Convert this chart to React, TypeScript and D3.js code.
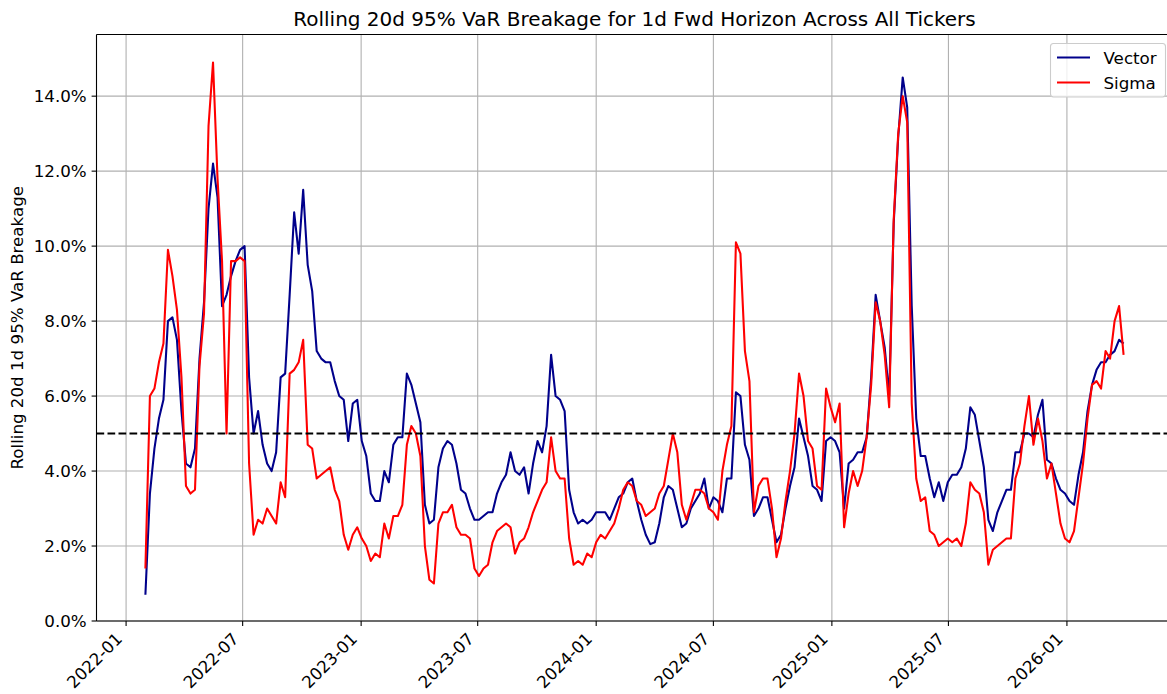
import React from "react";
import * as d3 from "d3";

// ---- Data (weekly samples) ----
const START_DATE = "2022-01-31";
const STEP_DAYS = 7;

const vectorVals = [
  0.7, 3.4, 4.6, 5.4, 5.9, 8.0, 8.1, 7.5, 5.6, 4.2,
  4.1, 4.6, 7.0, 8.5, 11.0, 12.2, 11.3, 8.4, 8.7, 9.2,
  9.6, 9.9, 10.0, 6.5, 5.0, 5.6, 4.7, 4.2, 4.0, 4.5,
  6.5, 6.6, 8.7, 10.9, 9.8, 11.5, 9.5, 8.8, 7.2, 7.0,
  6.9, 6.9, 6.4, 6.0, 5.9, 4.8, 5.8, 5.9, 4.8, 4.4,
  3.4, 3.2, 3.2, 4.0, 3.7, 4.7, 4.9, 4.9, 6.6, 6.3,
  5.8, 5.3, 3.1, 2.6, 2.7, 4.1, 4.6, 4.8, 4.7, 4.2,
  3.5, 3.4, 3.0, 2.7, 2.7, 2.8, 2.9, 2.9, 3.4, 3.7,
  3.9, 4.5, 4.0, 3.9, 4.1, 3.4, 4.2, 4.8, 4.5, 5.2,
  7.1, 6.0, 5.9, 5.6, 3.5, 2.9, 2.6, 2.7, 2.6, 2.7,
  2.9, 2.9, 2.9, 2.7, 3.0, 3.3, 3.4, 3.7, 3.8, 3.2,
  2.7, 2.3, 2.05, 2.1, 2.6, 3.3, 3.6, 3.5, 3.0, 2.5,
  2.6, 3.0, 3.2, 3.4, 3.8, 3.0, 3.3, 3.2, 2.9, 3.8,
  3.8, 6.1, 6.0, 4.7, 4.3, 2.8, 3.0, 3.3, 3.3, 2.7,
  2.1, 2.3, 3.0, 3.6, 4.1, 5.4, 4.9, 4.4, 3.6, 3.5,
  3.2, 4.8, 4.9, 4.8, 4.5, 3.0, 4.2, 4.3, 4.5, 4.5,
  4.9, 6.5, 8.7, 8.0, 7.3, 6.0, 10.6, 12.9, 14.5, 13.7,
  8.4, 5.4, 4.4, 4.4, 3.8, 3.3, 3.7, 3.2, 3.7, 3.9,
  3.9, 4.1, 4.6, 5.7, 5.5, 4.8, 4.1, 2.7, 2.4, 2.9,
  3.2, 3.5, 3.5, 4.5, 4.5, 5.0, 5.0, 4.9, 5.5, 5.9,
  4.3, 4.2, 3.8, 3.5, 3.4, 3.2, 3.1, 3.9, 4.5, 5.6,
  6.3, 6.7, 6.9, 6.9, 7.1, 7.2, 7.5, 7.4,
];

const sigmaVals = [
  1.4, 6.0, 6.2, 6.9, 7.4, 9.9, 9.2, 8.3, 6.5, 3.6,
  3.4, 3.5, 6.8, 8.2, 13.2, 14.9, 11.8, 9.6, 5.0, 9.6,
  9.6, 9.7, 9.6, 4.2, 2.3, 2.7, 2.6, 3.0, 2.8, 2.6,
  3.7, 3.3, 6.6, 6.7, 6.9, 7.5, 4.7, 4.6, 3.8, 3.9,
  4.0, 4.1, 3.5, 3.2, 2.3, 1.9, 2.3, 2.5, 2.2, 2.0,
  1.6, 1.8, 1.7, 2.6, 2.2, 2.8, 2.8, 3.1, 4.7, 5.2,
  5.0, 4.4, 2.0, 1.1, 1.0, 2.6, 2.9, 2.9, 3.1, 2.5,
  2.3, 2.3, 2.2, 1.4, 1.2, 1.4, 1.5, 2.1, 2.4, 2.5,
  2.6, 2.5, 1.8, 2.1, 2.2, 2.5, 2.9, 3.2, 3.5, 3.7,
  4.9, 4.0, 3.8, 3.8, 2.2, 1.5, 1.6, 1.5, 1.8, 1.7,
  2.1, 2.3, 2.2, 2.4, 2.6, 3.0, 3.5, 3.7, 3.6, 3.2,
  3.1, 2.8, 2.9, 3.0, 3.4, 3.6, 4.3, 5.0, 4.5, 3.1,
  2.7, 3.1, 3.5, 3.5, 3.4, 3.0, 2.9, 2.7, 4.0, 4.7,
  5.2, 10.1, 9.8, 7.2, 6.4, 2.9, 3.6, 3.8, 3.8, 3.0,
  1.7, 2.2, 3.2, 4.0, 5.0, 6.6, 6.0, 4.8, 4.6, 3.6,
  3.5, 6.2, 5.7, 5.3, 5.8, 2.5, 3.4, 4.0, 3.6, 4.0,
  4.9, 6.3, 8.5, 8.0, 7.1, 5.7, 10.7, 13.0, 14.0, 13.3,
  5.8, 3.8, 3.2, 3.3, 2.4, 2.3, 2.0, 2.1, 2.2, 2.1,
  2.2, 2.0, 2.6, 3.7, 3.5, 3.4, 2.9, 1.5, 1.9, 2.0,
  2.1, 2.2, 2.2, 3.8, 4.2, 5.2, 6.0, 4.7, 5.4, 4.8,
  3.8, 4.2, 3.4, 2.6, 2.2, 2.1, 2.4, 3.3, 4.2, 5.4,
  6.3, 6.4, 6.2, 7.2, 7.0, 8.0, 8.4, 7.1,
];

const xTickLabels = [
  "2022-01", "2022-07", "2023-01", "2023-07", "2024-01",
  "2024-07", "2025-01", "2025-07", "2026-01",
];
const yTickValues = [0, 2, 4, 6, 8, 10, 12, 14];
const THRESHOLD = 5;
const SERIES_NAMES = ["Vector", "Sigma"];
const TITLE = "Rolling 20d 95% VaR Breakage for 1d Fwd Horizon Across All Tickers";
const Y_LABEL = "Rolling 20d 1d 95% VaR Breakage";

// ---- Styles ----
const W = 1167;
const H = 694;
const AX_LEFT = 96.5;
const AX_RIGHT = 1172.5;
const AX_TOP = 34.5;
const AX_BOTTOM = 621;
const FONT = "'DejaVu Sans', sans-serif";
const TICK_FS = 16.7;
const TITLE_FS = 20;
const COLORS = ["#00008b", "#ff0000"];
const GRID = "#b0b0b0";

export default function App() {
  const parse = d3.utcParse("%Y-%m-%d");
  const start = parse(START_DATE) as Date;
  const dates = vectorVals.map((_, i) => d3.utcDay.offset(start, i * STEP_DAYS));
  const [d0, d1] = d3.extent(dates) as [Date, Date];
  const span = +d1 - +d0;
  const x = d3
    .scaleUtc()
    .domain([new Date(+d0 - 0.05 * span), new Date(+d1 + 0.05 * span)])
    .range([AX_LEFT, AX_RIGHT]);
  const maxV = d3.max([...vectorVals, ...sigmaVals]) as number;
  const y = d3.scaleLinear().domain([0, maxV * 1.05]).range([AX_BOTTOM, AX_TOP]);

  const xTicks = xTickLabels.map((s) => parse(s + "-01") as Date);
  const fmtY = (v: number) => d3.format(".1f")(v) + "%";

  const line = d3
    .line<number>()
    .x((_, i) => x(dates[i]))
    .y((v) => y(v));

  const series = [vectorVals, sigmaVals];

  return (
    <svg
      width={W}
      height={H}
      viewBox={`0 0 ${W} ${H}`}
      style={{ position: "absolute", left: 0, top: 0, background: "#fff" }}
      fontFamily={FONT}
    >
      <defs>
        <clipPath id="plotClip">
          <rect x={AX_LEFT} y={AX_TOP} width={AX_RIGHT - AX_LEFT} height={AX_BOTTOM - AX_TOP} />
        </clipPath>
      </defs>
      <rect x={0} y={0} width={W} height={H} fill="#fff" />

      {/* grid */}
      <g stroke={GRID} strokeWidth={1.1}>
        {xTicks.map((d, i) => (
          <line key={"gx" + i} x1={x(d)} x2={x(d)} y1={AX_TOP} y2={AX_BOTTOM} />
        ))}
        {yTickValues.map((v, i) => (
          <line key={"gy" + i} x1={AX_LEFT} x2={AX_RIGHT} y1={y(v)} y2={y(v)} />
        ))}
      </g>

      {/* series */}
      <g clipPath="url(#plotClip)">
        {series.map((vals, k) => (
          <path
            key={SERIES_NAMES[k]}
            d={line(vals) as string}
            fill="none"
            stroke={COLORS[k]}
            strokeWidth={2.08}
            strokeLinejoin="round"
            strokeLinecap="butt"
          />
        ))}
        <line
          x1={AX_LEFT}
          x2={AX_RIGHT}
          y1={y(THRESHOLD)}
          y2={y(THRESHOLD)}
          stroke="#000"
          strokeWidth={2.08}
          strokeDasharray="7.7,3.3"
        />
      </g>

      {/* spines */}
      <g stroke="#000" strokeWidth={1.1} fill="none">
        <line x1={AX_LEFT} x2={AX_LEFT} y1={AX_TOP} y2={AX_BOTTOM} />
        <line x1={AX_LEFT} x2={AX_RIGHT} y1={AX_BOTTOM} y2={AX_BOTTOM} />
        <line x1={AX_LEFT} x2={AX_RIGHT} y1={AX_TOP} y2={AX_TOP} />
        <line x1={AX_RIGHT} x2={AX_RIGHT} y1={AX_TOP} y2={AX_BOTTOM} />
      </g>

      {/* x ticks */}
      <g>
        {xTicks.map((d, i) => (
          <g key={"xt" + i}>
            <line x1={x(d)} x2={x(d)} y1={AX_BOTTOM} y2={AX_BOTTOM + 4.9} stroke="#000" strokeWidth={1.1} />
            <text
              transform={`translate(${x(d) - 2.8},${AX_BOTTOM + 19})rotate(-45)`}
              textAnchor="end"
              fontSize={TICK_FS}
              fill="#000"
            >
              {xTickLabels[i]}
            </text>
          </g>
        ))}
      </g>

      {/* y ticks */}
      <g>
        {yTickValues.map((v, i) => (
          <g key={"yt" + i}>
            <line x1={AX_LEFT - 4.9} x2={AX_LEFT} y1={y(v)} y2={y(v)} stroke="#000" strokeWidth={1.1} />
            <text x={AX_LEFT - 9.8} y={y(v)} dy="0.36em" textAnchor="end" fontSize={TICK_FS} fill="#000">
              {fmtY(v)}
            </text>
          </g>
        ))}
      </g>

      {/* y label */}
      <text
        transform={`translate(23,${(AX_TOP + AX_BOTTOM) / 2})rotate(-90)`}
        textAnchor="middle"
        fontSize={TICK_FS}
        fill="#000"
      >
        {Y_LABEL}
      </text>

      {/* title */}
      <text x={(AX_LEFT + AX_RIGHT) / 2} y={26} textAnchor="middle" fontSize={TITLE_FS} fill="#000">
        {TITLE}
      </text>

      {/* legend */}
      <g>
        <rect
          x={1050.5}
          y={43.5}
          width={115}
          height={53.5}
          rx={3}
          fill="#fff"
          fillOpacity={0.8}
          stroke="#cccccc"
          strokeWidth={1.1}
        />
        {SERIES_NAMES.map((name, k) => (
          <g key={"lg" + name}>
            <line x1={1057} x2={1090} y1={57.5 + k * 25} y2={57.5 + k * 25} stroke={COLORS[k]} strokeWidth={2.08} />
            <text x={1103.5} y={63.5 + k * 25} fontSize={TICK_FS} fill="#000">
              {name}
            </text>
          </g>
        ))}
      </g>
    </svg>
  );
}
